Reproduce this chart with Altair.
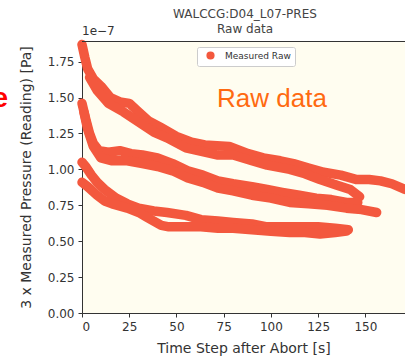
import altair as alt
import pandas as pd

# ---- data (pressure in units of 1e-7 Pa) ----
t1_x = [0, 1.5, 3, 6, 10, 15, 20, 25, 30, 35, 42, 50, 58, 65, 78, 88, 96, 105, 112, 120, 128, 137, 145, 152, 158, 164, 171]
t1_y = [1.87, 1.78, 1.70, 1.63, 1.58, 1.50, 1.47, 1.46, 1.40, 1.34, 1.29, 1.23, 1.19, 1.17, 1.16, 1.11, 1.08, 1.06, 1.04, 1.01, 0.98, 0.96, 0.93, 0.93, 0.92, 0.90, 0.86]

t2_x = [4, 8, 14, 22, 30, 38, 45, 55, 65, 72, 80, 90, 98, 110, 118, 126, 135, 142, 147]
t2_y = [1.64, 1.55, 1.46, 1.40, 1.33, 1.26, 1.22, 1.15, 1.12, 1.10, 1.10, 1.06, 1.03, 1.00, 0.97, 0.93, 0.89, 0.86, 0.81]

t3_x = [0, 2, 4, 6, 9, 14, 20, 26, 32, 40, 48, 56, 64, 72, 80, 90, 98, 106, 115, 124, 132, 140, 146]
t3_y = [1.46, 1.35, 1.25, 1.18, 1.13, 1.12, 1.13, 1.11, 1.10, 1.08, 1.04, 0.99, 0.96, 0.92, 0.90, 0.88, 0.86, 0.84, 0.82, 0.80, 0.79, 0.77, 0.77]

t4_x = [1, 3, 6, 10, 16, 24, 32, 40, 48, 56, 64, 72, 80, 90, 100, 110, 120, 130, 140, 148, 156]
t4_y = [1.40, 1.28, 1.16, 1.08, 1.06, 1.06, 1.04, 1.02, 0.99, 0.94, 0.91, 0.87, 0.85, 0.82, 0.80, 0.77, 0.76, 0.75, 0.73, 0.72, 0.70]

t5_x = [0, 2, 5, 8, 12, 18, 24, 30, 38, 45, 55, 63, 72, 80, 90, 98, 108, 116, 125, 134, 141]
t5_y = [1.05, 1.02, 0.96, 0.91, 0.86, 0.80, 0.76, 0.73, 0.71, 0.70, 0.68, 0.65, 0.64, 0.63, 0.62, 0.60, 0.60, 0.60, 0.60, 0.59, 0.58]

t6_x = [0, 3, 8, 12, 16, 24, 30, 34, 38, 42, 46, 55, 63, 72, 80, 90, 100, 110, 118, 126, 134, 140]
t6_y = [0.91, 0.88, 0.82, 0.78, 0.76, 0.73, 0.70, 0.67, 0.64, 0.61, 0.60, 0.60, 0.60, 0.59, 0.59, 0.58, 0.57, 0.56, 0.56, 0.55, 0.56, 0.57]

traces = [(t1_x, t1_y), (t2_x, t2_y), (t3_x, t3_y), (t4_x, t4_y), (t5_x, t5_y), (t6_x, t6_y)]
x_ticks = [0, 25, 50, 75, 100, 125, 150]
y_ticks = [0, 0.25, 0.5, 0.75, 1.0, 1.25, 1.5, 1.75]
series_label = "Measured Raw"
title_lines = ["WALCCG:D04_L07-PRES", "Raw data"]

rows = []
for i, (xs, ys) in enumerate(traces):
    for k, (a, b) in enumerate(zip(xs, ys)):
        rows.append({"t": a, "p": b, "trace": i, "order": k, "label": series_label})
df = pd.DataFrame(rows)

RED = "#f3583e"
FONT = "DejaVu Sans"
W, H = 323, 272

lines = alt.Chart(df).mark_line(
    strokeWidth=9.5, strokeCap="round", strokeJoin="round"
).encode(
    x=alt.X("t:Q", scale=alt.Scale(domain=[0, 171], nice=False, zero=False),
            axis=alt.Axis(values=x_ticks, title="Time Step after Abort [s]", format="d",
                          titlePadding=9)),
    y=alt.Y("p:Q", scale=alt.Scale(domain=[0, 1.894], nice=False),
            axis=alt.Axis(values=y_ticks, format=".2f",
                          title="3 x Measured Pressure (Reading) [Pa]", titlePadding=14)),
    color=alt.Color("label:N", scale=alt.Scale(range=[RED]),
                    legend=alt.Legend(title=None, orient="none", legendX=115, legendY=6,
                                      symbolType="circle", symbolSize=45,
                                      symbolFillColor=RED, symbolStrokeColor=RED,
                                      labelFontSize=9, labelFont=FONT, labelColor="#333",
                                      fillColor="white", strokeColor="#cccccc",
                                      padding=4, symbolOffset=5, labelOffset=10,
                                      cornerRadius=2)),
    detail="trace:N",
    order="order:Q",
)

top_spine = alt.Chart(pd.DataFrame({"a": [0]})).mark_rule(color="#333", strokeWidth=1).encode(
    x=alt.value(0), x2=alt.value(W), y=alt.value(0.5)
)

title1 = alt.Chart(pd.DataFrame({"s": [title_lines[0]]})).mark_text(
    align="center", baseline="alphabetic", fontSize=12, font=FONT, color="#444"
).encode(text="s:N", x=alt.value(163), y=alt.value(-23))

title2 = alt.Chart(pd.DataFrame({"s": [title_lines[1]]})).mark_text(
    align="center", baseline="alphabetic", fontSize=12, font=FONT, color="#444"
).encode(text="s:N", x=alt.value(163), y=alt.value(-8))

exp_txt = alt.Chart(pd.DataFrame({"s": ["1e\u22127"]})).mark_text(
    align="left", baseline="alphabetic", fontSize=12, font=FONT, color="#333"
).encode(text="s:N", x=alt.value(0), y=alt.value(-6))

raw_txt = alt.Chart(pd.DataFrame({"s": ["Raw data"]})).mark_text(
    align="left", baseline="alphabetic", fontSize=26, font="Liberation Sans", color="#ff6a10"
).encode(text="s:N", x=alt.value(135), y=alt.value(66))

e_txt = alt.Chart(pd.DataFrame({"s": ["e"]})).mark_text(
    align="right", baseline="alphabetic", fontSize=28, font="Liberation Sans",
    fontWeight="bold", color="#ff0000"
).encode(text="s:N", x=alt.value(-74), y=alt.value(66))

chart = alt.layer(lines, top_spine, title1, title2, exp_txt, raw_txt, e_txt).properties(
    width=W, height=H,
    autosize=alt.AutoSizeParams(type="none"),
    padding={"left": 82, "top": 41, "right": 0, "bottom": 48},
    background="white",
).configure_view(
    stroke=None, fill="#fffdf0"
).configure_axis(
    grid=False, domainColor="#333", tickColor="#333", tickSize=4, labelPadding=4,
    labelFont=FONT, labelFontSize=12, labelColor="#333",
    titleFont=FONT, titleFontSize=14, titleFontWeight="normal", titleColor="#333",
)

chart.save("out.html", embed_options={"renderer": "svg", "actions": False})
